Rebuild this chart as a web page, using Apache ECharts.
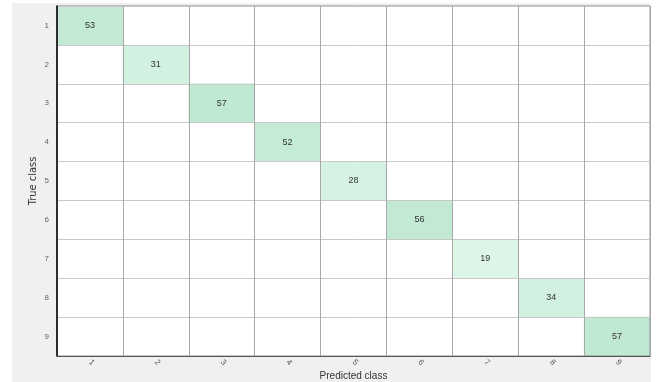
<!DOCTYPE html>
<html>
<head>
<meta charset="utf-8">
<style>
  html, body { margin: 0; padding: 0; background: #ffffff; }
  #chart { width: 661px; height: 382px; }
</style>
<script src="https://cdn.jsdelivr.net/npm/echarts@6/dist/echarts.min.js"></script>
</head>
<body>
<div id="chart"></div>
<script>
// Class labels shared by both axes
const classes = ['1', '2', '3', '4', '5', '6', '7', '8', '9'];
// Correct-prediction counts on the diagonal (true class i predicted as i)
const diagonalCounts = [53, 31, 57, 52, 28, 56, 19, 34, 57];
// Off-diagonal cells are all empty (zero) and are left blank

const cells = diagonalCounts.map((v, i) => [i, i, v]);

const chart = echarts.init(document.getElementById('chart'), null, { renderer: 'canvas' });

const plot = { left: 57, top: 6, width: 593, height: 350 };

chart.setOption({
  animation: false,
  textStyle: { fontFamily: 'Liberation Sans, Arial, sans-serif' },
  graphic: [
    {
      type: 'rect',
      z: -10,
      silent: true,
      shape: { x: 12, y: 3, width: 639, height: 379 },
      style: { fill: '#f0f0f0' }
    },
    {
      type: 'rect',
      z: -5,
      silent: true,
      shape: { x: plot.left, y: plot.top, width: plot.width, height: plot.height },
      style: { fill: '#ffffff' }
    }
  ],
  grid: {
    left: plot.left, top: plot.top, width: plot.width, height: plot.height,
    outerBoundsMode: 'none',
    containLabel: false,
    show: true,
    backgroundColor: 'transparent',
    borderColor: '#8c8c8c',
    borderWidth: 1,
    z: 5
  },
  visualMap: {
    show: false,
    min: 19,
    max: 57,
    dimension: 2,
    inRange: { color: ['#dcf5e7', '#c0e9d3'] }
  },
  xAxis: {
    type: 'category',
    data: classes,
    name: 'Predicted class',
    nameLocation: 'middle',
    nameMoveOverlap: false,
    nameGap: 15,
    nameTextStyle: { fontSize: 10, color: '#333333' },
    axisLine: { show: true, lineStyle: { color: '#555555', width: 1 } },
    axisTick: { show: false },
    axisLabel: { rotate: -45, fontSize: 8, color: '#555555', margin: 5 },
    splitLine: { show: true, interval: 0, lineStyle: { color: '#a8a8a8', width: 1 } },
    z: 6
  },
  yAxis: {
    type: 'category',
    data: classes,
    inverse: true,
    name: 'True class',
    nameLocation: 'middle',
    nameMoveOverlap: false,
    nameGap: 18,
    nameTextStyle: { fontSize: 11, color: '#333333', fontFamily: 'Liberation Sans Narrow, DejaVu Sans Condensed, sans-serif' },
    axisLine: { show: true, lineStyle: { color: '#000000', width: 1.5 } },
    axisTick: { show: false },
    axisLabel: { fontSize: 8, color: '#666666', margin: 8 },
    splitLine: { show: true, interval: 0, lineStyle: { color: '#c8c8c8', width: 1 } },
    z: 6
  },
  series: [{
    type: 'heatmap',
    data: cells,
    label: {
      show: true,
      fontSize: 9,
      color: '#333333'
    },
    itemStyle: { borderWidth: 0 },
    z: 2
  }]
});
</script>
</body>
</html>
